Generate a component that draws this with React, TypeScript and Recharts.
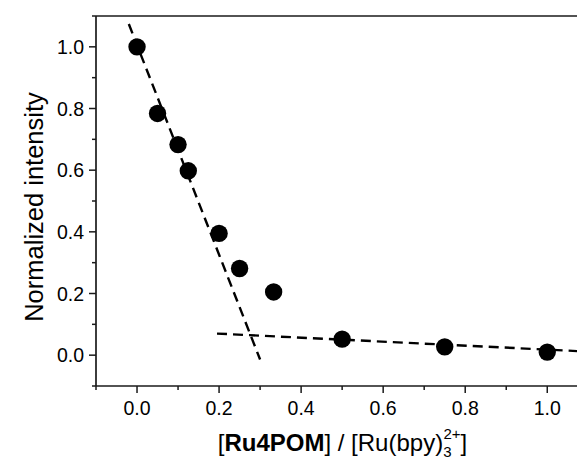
import React from "react";
import { ComposedChart, Scatter, Line, XAxis, YAxis, ReferenceLine } from "recharts";

// Measured data
const ratioValues = [0.0, 0.05, 0.1, 0.125, 0.2, 0.25, 0.333, 0.5, 0.75, 1.0];
const intensityValues = [1.0, 0.784, 0.683, 0.598, 0.395, 0.281, 0.205, 0.052, 0.027, 0.01];

// Dashed fit lines (endpoints)
const fit1X = [-0.02, 0.3];
const fit1Y = [1.074, -0.014];
const fit2X = [0.195, 1.092];
const fit2Y = [0.07, 0.012];

// Ticks
const xTicks = [-0.1, 0, 0.1, 0.2, 0.3, 0.4, 0.5, 0.6, 0.7, 0.8, 0.9, 1.0];
const yTicks = [-0.1, 0, 0.1, 0.2, 0.3, 0.4, 0.5, 0.6, 0.7, 0.8, 0.9, 1.0, 1.1];
const xDomain = [-0.1, 1.092];
const yDomain = [-0.1, 1.1];

const points = ratioValues.map((x, i) => ({ x, y: intensityValues[i] }));
const fit1 = fit1X.map((x, i) => ({ x, y: fit1Y[i] }));
const fit2 = fit2X.map((x, i) => ({ x, y: fit2Y[i] }));

const FONT = "'Liberation Sans', Arial, Helvetica, sans-serif";
const AX = "#1a1a1a";
const isMajor = (v: number) => Math.abs(Math.round(v * 10)) % 2 === 0;

const XTick = (props: any) => {
  const { x, y, payload } = props;
  const v = payload.value as number;
  const major = isMajor(v) && v >= 0;
  return (
    <g>
      <line x1={x} x2={x} y1={y} y2={y + (major ? 7 : 4)} stroke={AX} strokeWidth={1.5} />
      {major && (
        <text x={x} y={y + 29} textAnchor="middle" fontSize={19.5} fontFamily={FONT} fill="#000">
          {v.toFixed(1)}
        </text>
      )}
    </g>
  );
};

const YTick = (props: any) => {
  const { x, y, payload } = props;
  const v = payload.value as number;
  const major = isMajor(v) && v >= 0 && v <= 1.0;
  return (
    <g>
      <line x1={x} x2={x - (major ? 7 : 4)} y1={y} y2={y} stroke={AX} strokeWidth={1.5} />
      {major && (
        <text x={x - 12} y={y + 7} textAnchor="end" fontSize={19.5} fontFamily={FONT} fill="#000">
          {v.toFixed(1)}
        </text>
      )}
    </g>
  );
};

const XLabel = (props: any) => {
  const vb = props.viewBox || { x: 88, y: 378, width: 489, height: 73 };
  const cx = vb.x + vb.width / 2 + 2;
  const by = vb.y + 65;
  return (
    <text x={cx} y={by} textAnchor="middle" fontSize={24} fontFamily={FONT} fill="#000">
      <tspan>[</tspan>
      <tspan fontWeight="bold">Ru4POM</tspan>
      <tspan>] / [Ru(bpy)</tspan>
      <tspan fontSize={15} dy={6}>3</tspan>
      <tspan fontSize={15} dx={-8} dy={-18}>2+</tspan>
      <tspan dy={12}>]</tspan>
    </text>
  );
};

const YLabel = (props: any) => {
  const x = 26;
  const y = 199;
  return (
    <text x={x} y={y} transform={`rotate(-90, ${x}, ${y})`} textAnchor="middle" dominantBaseline="central" fontSize={25.5} fontFamily={FONT} fill="#000">
      Normalized intensity
    </text>
  );
};

const Dot = (props: any) => {
  const { cx, cy } = props;
  return <circle cx={cx} cy={cy} r={8.7} fill="#000" />;
};

export default function App() {
  return (
    <ComposedChart width={577} height={451} margin={{ top: 8, right: 0, bottom: 0, left: 0 }}>
      <XAxis
        type="number"
        dataKey="x"
        domain={xDomain}
        ticks={xTicks}
        interval={0}
        allowDataOverflow
        height={73}
        tickSize={0}
        tickMargin={0}
        tickLine={false}
        tick={<XTick />}
        axisLine={{ stroke: AX, strokeWidth: 1.7 }}
        label={<XLabel />}
      />
      <YAxis
        type="number"
        dataKey="y"
        domain={yDomain}
        ticks={yTicks}
        interval={0}
        allowDataOverflow
        width={88}
        tickSize={0}
        tickMargin={0}
        tickLine={false}
        tick={<YTick />}
        axisLine={{ stroke: AX, strokeWidth: 1.7 }}
        label={<YLabel />}
      />
      <ReferenceLine y={1.1} stroke={AX} strokeWidth={1.7} />
      <Line data={fit1} dataKey="y" type="linear" stroke="#000" strokeWidth={2.4} strokeDasharray="10 6" dot={false} activeDot={false} isAnimationActive={false} />
      <Line data={fit2} dataKey="y" type="linear" stroke="#000" strokeWidth={2.4} strokeDasharray="10 6" dot={false} activeDot={false} isAnimationActive={false} />
      <Scatter data={points} dataKey="y" fill="#000" shape={<Dot />} isAnimationActive={false} />
    </ComposedChart>
  );
}
